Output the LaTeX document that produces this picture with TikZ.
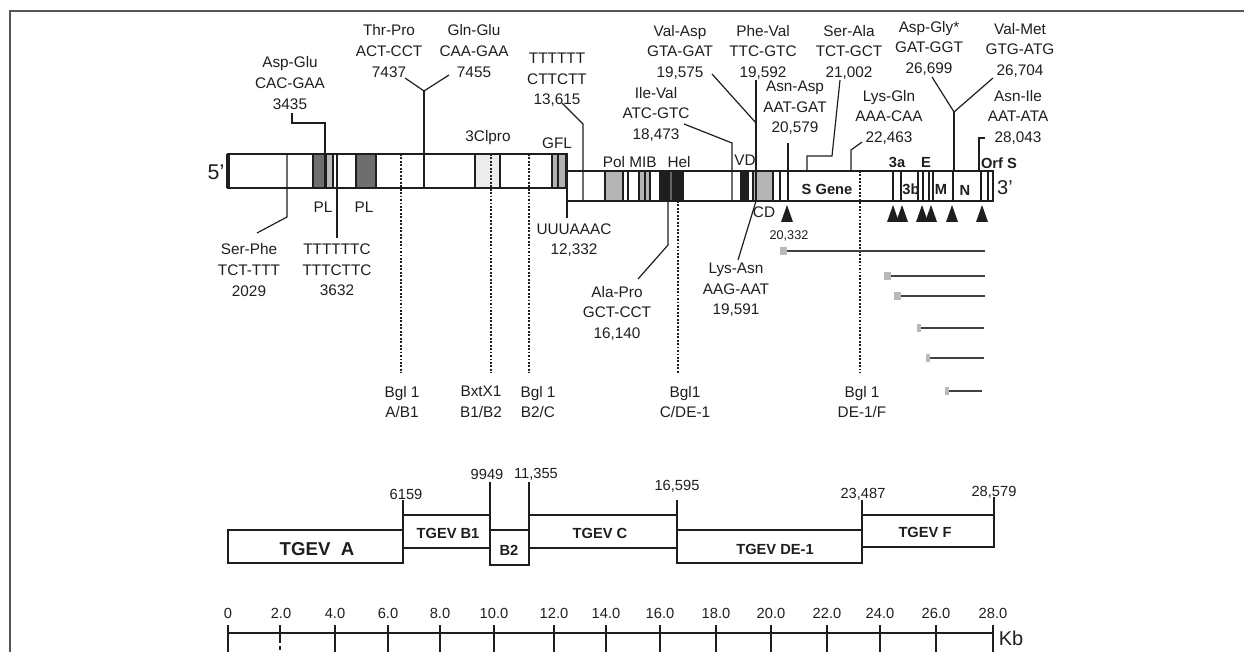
\documentclass[tikz,border=0pt]{standalone}
\usepackage{fontspec}
\setmainfont{Liberation Sans}
\definecolor{ink}{HTML}{1E1E1E}
\definecolor{plgray}{HTML}{6E6E6E}
\definecolor{lgray}{HTML}{B4B4B4}
\definecolor{vlgray}{HTML}{ECECEC}
\begin{document}
\begin{tikzpicture}[x=0.75pt,y=-0.75pt,
  lbl/.style={font=\fontsize{11.5}{15.4}\selectfont, align=center, inner sep=0pt, text=ink},
  blbl/.style={font=\bfseries\fontsize{11}{13}\selectfont, inner sep=0pt, text=ink},
  num/.style={font=\fontsize{11}{13}\selectfont, inner sep=0pt, text=ink},
  ptr/.style={draw=ink, line width=0.9pt},
  barln/.style={draw=ink, line width=1pt},
  dotln/.style={draw=ink, line width=0.9pt, dash pattern=on 1.4pt off 1.2pt},
  sgbox/.style={draw=ink, line width=1.6pt},
  sub/.style={draw=ink!85, line width=1.3pt},
  tri/.style={fill=ink}]
\useasboundingbox (0,0) rectangle (1244,652);
% frame
\draw[draw=ink!75, line width=1.6pt] (10,652) -- (10,11) -- (1244,11);

% ---------- genome bar ----------
\fill[white] (228,154) rectangle (567,188);
\fill[white] (567,171) rectangle (993,201);
% left part boxes
\fill[plgray] (313,154) rectangle (326,188);
\fill[gray!55] (326,154) rectangle (333,188);
\draw[barln] (313,154) rectangle (333,188);
\draw[barln] (326,154) -- (326,188);
\fill[plgray] (356,154) rectangle (376,188);
\draw[barln] (356,154) rectangle (376,188);
\fill[vlgray] (475,154) rectangle (500,188);
\draw[barln] (475,154) rectangle (500,188);
\fill[gray!60] (552,154) rectangle (566,188);
\draw[barln] (552,154) rectangle (566,188);
\draw[barln] (558,154) -- (558,188);
% right part boxes
\fill[lgray] (605,171) rectangle (623,201);
\draw[barln] (605,171) rectangle (623,201);
\draw[barln] (628,171) -- (628,201);
\fill[lgray] (639,171) rectangle (650,201);
\draw[barln] (639,171) rectangle (650,201);
\draw[barln] (645,171) -- (645,201);
\fill[ink] (659,171) rectangle (684,201);
\fill[black!60] (670,171) rectangle (672,201);
\fill[ink] (740,171) rectangle (749,201);
\fill[lgray] (753,171) rectangle (773,201);
\draw[barln] (753,171) rectangle (773,201);
\draw[barln] (780,171) -- (780,201);
\draw[draw=ink, line width=2pt] (788,171) -- (788,201);
\foreach \xx in {893,901,918,923,929,933,953,981,988} {\draw[barln] (\xx,171) -- (\xx,201);}
% outlines
\draw[barln] (228,154) rectangle (567,188);
\draw[barln] (567,171) rectangle (993,201);
\draw[draw=ink, line width=2.4pt] (228,154) -- (228,188);

% bar labels
\node[font=\fontsize{16}{18}\selectfont, inner sep=0pt, text=ink] (five) at (216,172) {5'};
\node[font=\fontsize{15}{18}\selectfont, inner sep=0pt, text=ink] (three) at (1005,188) {3'};
\node[lbl] (pl1) at (323,207) {PL};
\node[lbl] (pl2) at (364,207) {PL};
\node[lbl] (clpro) at (488,138) {3Clpro};
\node[lbl] (gfl) at (557,143) {GFL};
\node[lbl] (pol) at (614,162) {Pol};
\node[lbl] (mib) at (643,162) {MIB};
\node[lbl] (hel) at (679,162) {Hel};
\node[lbl] (vd) at (745,160) {VD};
\node[lbl] (cd) at (764,212) {CD};
\node[blbl] (sgene) at (827,189) {S Gene};
\node[blbl] (g3a) at (897,162) {3a};
\node[blbl] (g3b) at (911,189) {3b};
\node[blbl] (ge) at (926,162) {E};
\node[blbl] (gm) at (941,189) {M};
\node[blbl] (gn) at (965,190) {N};
\node[blbl] (orfs) at (999,163) {Orf S};

% triangles
\foreach \xx in {787,893,902,922,931,952,982} {\fill[tri] (\xx-6,222) -- (\xx+6,222) -- (\xx,205) -- cycle;}

% ---------- top labels and pointers ----------
\node[lbl] (aspglu) at (290,83) {Asp-Glu\\CAC-GAA\\3435};
\draw[ptr] (292,113) -- (292,123) -- (325,123) -- (325,188);
\node[lbl] (thrpro) at (389,51) {Thr-Pro\\ACT-CCT\\7437};
\node[lbl] (glnglu) at (474,51) {Gln-Glu\\CAA-GAA\\7455};
\coordinate (yj1) at (424,91);
\draw[ptr] (405,78) -- (yj1) -- (449,75);
\draw[ptr] (yj1) -- (424,188);
\node[lbl] (t6) at (557,80) {TTTTTT\\CTTCTT\\13,615};
\draw[ptr] (562,103) -- (583,124) -- (583,201);
\node[lbl] (valasp) at (680,52) {Val-Asp\\GTA-GAT\\19,575};
\draw[ptr] (712,74) -- (756,123);
\node[lbl] (ileval) at (656,114) {Ile-Val\\ATC-GTC\\18,473};
\draw[ptr] (684,124) -- (732,143) -- (732,201);
\node[lbl] (pheval) at (763,52) {Phe-Val\\TTC-GTC\\19,592};
\draw[ptr] (756,80) -- (756,201);
\node[lbl] (asnasp) at (795,108) {Asn-Asp\\AAT-GAT\\20,579};
\draw[draw=ink, line width=1.6pt] (788,143) -- (788,171);
\node[lbl] (serala) at (849,52) {Ser-Ala\\TCT-GCT\\21,002};
\draw[ptr] (840,80) -- (832,156) -- (807,156) -- (807,171);
\node[lbl] (lysgln) at (889,117) {Lys-Gln\\AAA-CAA\\22,463};
\draw[ptr] (862,142) -- (851,150) -- (851,171);
\node[lbl] (aspgly) at (929,48) {Asp-Gly*\\GAT-GGT\\26,699};
\node[lbl] (valmet) at (1020,50) {Val-Met\\GTG-ATG\\26,704};
\coordinate (yj2) at (954,112);
\draw[ptr] (932,77) -- (yj2) -- (993,78);
\draw[ptr] (yj2) -- (954,171);
\node[lbl] (asnile) at (1018,117) {Asn-Ile\\AAT-ATA\\28,043};
\draw[ptr] (985,138) -- (979,138) -- (979,171);

% ---------- bottom labels and pointers ----------
\node[lbl] (serphe) at (249,270) {Ser-Phe\\TCT-TTT\\2029};
\draw[ptr] (287,154) -- (287,217) -- (257,233);
\node[lbl] (t7) at (337,270) {TTTTTTC\\TTTCTTC\\3632};
\draw[ptr] (337,154) -- (337,238);
\node[lbl] (uuu) at (574,240) {UUUAAAC\\12,332};
\draw[ptr] (567,201) -- (567,218);
\node[lbl] (alapro) at (617,313) {Ala-Pro\\GCT-CCT\\16,140};
\draw[ptr] (668,201) -- (668,245) -- (638,279);
\node[lbl] (lysasn) at (736,290) {Lys-Asn\\AAG-AAT\\19,591};
\draw[ptr] (756,201) -- (738,260);

% restriction sites
\draw[dotln] (401,154) -- (401,373);
\draw[dotln] (491,154) -- (491,373);
\draw[dotln] (529,154) -- (529,373);
\draw[dotln] (678,201) -- (678,373);
\draw[dotln] (860,171) -- (860,373);
\node[lbl] (bgl1) at (402,402) {Bgl 1\\A/B1};
\node[lbl] (bxt) at (481,402) {BxtX1\\B1/B2};
\node[lbl] (bgl2) at (538,402) {Bgl 1\\B2/C};
\node[lbl] (bgl3) at (685,402) {Bgl1\\C/DE-1};
\node[lbl] (bgl4) at (862,402) {Bgl 1\\DE-1/F};

% subgenomic RNAs
\node[font=\fontsize{9.5}{11}\selectfont, inner sep=0pt, text=ink] (n20332) at (789,236) {20,332};
\fill[gray!55] (780,247) rectangle (787,255); \draw[sub] (787,251) -- (985,251);
\fill[gray!55] (884,272) rectangle (891,280); \draw[sub] (891,276) -- (985,276);
\fill[gray!55] (894,292) rectangle (901,300); \draw[sub] (901,296) -- (985,296);
\fill[gray!55] (917,324) rectangle (921,332); \draw[sub] (921,328) -- (984,328);
\fill[gray!55] (926,354) rectangle (930,362); \draw[sub] (930,358) -- (984,358);
\fill[gray!55] (945,387) rectangle (949,395); \draw[sub] (949,391) -- (982,391);

% ---------- TGEV fragments ----------
\draw[sgbox] (228,530) rectangle (403,563);
\draw[sgbox] (403,515) rectangle (490,548);
\draw[sgbox] (490,530) rectangle (529,565);
\draw[sgbox] (529,515) rectangle (677,548);
\draw[sgbox] (677,530) rectangle (862,563);
\draw[sgbox] (862,515) rectangle (994,547);
\draw[sgbox] (403,500) -- (403,515);
\draw[sgbox] (490,482) -- (490,530);
\draw[sgbox] (529,482) -- (529,515);
\draw[sgbox] (677,500) -- (677,530);
\draw[sgbox] (862,500) -- (862,515);
\draw[sgbox] (994,497) -- (994,515);
\node[font=\bfseries\fontsize{14}{16}\selectfont, inner sep=0pt, text=ink] (fa) at (317,549) {TGEV\ \ A};
\node[blbl] (fb1) at (448,533) {TGEV B1};
\node[blbl] (fb2) at (509,550) {B2};
\node[blbl] (fc) at (600,533) {TGEV C};
\node[blbl] (fde) at (775,549) {TGEV DE-1};
\node[blbl] (ff) at (925,532) {TGEV F};
\node[num] (p1) at (406,494) {6159};
\node[num] (p2) at (487,474) {9949};
\node[num] (p3) at (536,474) {11,355};
\node[num] (p4) at (677,486) {16,595};
\node[num] (p5) at (863,494) {23,487};
\node[num] (p6) at (994,492) {28,579};

% ---------- scale ----------
\draw[draw=ink, line width=2.2pt] (228,633) -- (994,633);
\foreach \xx/\tl in {228/0,335/4.0,388/6.0,440/8.0,494/10.0,554/12.0,606/14.0,660/16.0,716/18.0,771/20.0,827/22.0,880/24.0,936/26.0,993/28.0} {
  \draw[draw=ink, line width=1pt] (\xx,625) -- (\xx,652);
  \node[num] at (\xx,613) {\tl};
}
\draw[draw=ink, line width=1pt] (280,625) -- (280,643);
\draw[draw=ink, line width=1pt] (280,646) -- (280,650);
\node[num] (s2) at (281,613) {2.0};
\node[font=\fontsize{15}{17}\selectfont, inner sep=0pt, text=ink] (kb) at (1011,638) {Kb};
\end{tikzpicture}
\end{document}
